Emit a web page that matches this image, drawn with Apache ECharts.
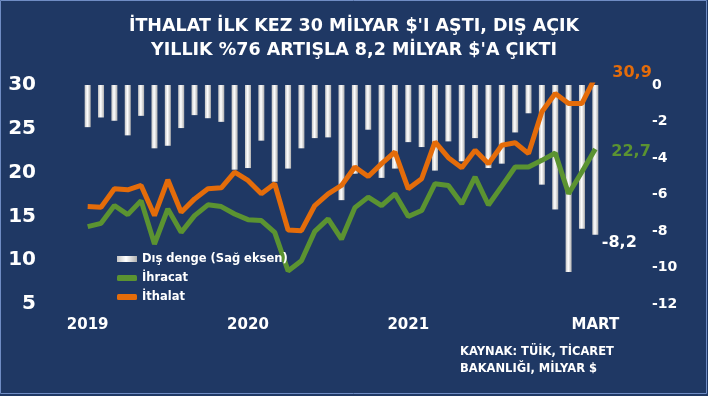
<!DOCTYPE html>
<html><head><meta charset="utf-8">
<script src="https://cdn.jsdelivr.net/npm/echarts@6/dist/echarts.min.js"></script>
<style>html,body{margin:0;padding:0;background:#1f3864;}#c{width:708px;height:396px;}</style>
</head><body><div id="c"></div>
<script>
const months = ['2019-01','2019-02','2019-03','2019-04','2019-05','2019-06','2019-07','2019-08','2019-09','2019-10','2019-11','2019-12',
'2020-01','2020-02','2020-03','2020-04','2020-05','2020-06','2020-07','2020-08','2020-09','2020-10','2020-11','2020-12',
'2021-01','2021-02','2021-03','2021-04','2021-05','2021-06','2021-07','2021-08','2021-09','2021-10','2021-11','2021-12',
'2022-01','2022-02','2022-03'];
const tickIndices = [0, 12, 24, 38];
const tickTexts = ['2019', '2020', '2021', 'MART'];
const exportsData = [13.83,14.21,16.24,15.2,16.8,11.85,15.86,13.18,15.09,16.32,16.12,15.28,
14.63,14.52,13.18,8.78,9.93,13.29,14.71,12.4,16.0,17.2,16.24,17.58,
14.98,15.67,18.73,18.53,16.44,19.5,16.3,18.45,20.64,20.64,21.4,22.24,
17.58,20.1,22.7];
const importsData = [16.12,16.05,18.15,18.04,18.53,15.09,19.18,15.48,17.0,18.15,18.27,20.06,
19.11,17.58,18.73,13.45,13.37,16.24,17.58,18.53,20.64,19.56,21.03,22.35,
18.15,19.3,23.5,21.7,20.55,22.55,21.0,23.12,23.4,22.17,26.94,29.04,
27.9,27.9,30.9];
const balanceData = [-2.31,-1.78,-1.96,-2.76,-1.69,-3.47,-3.33,-2.36,-1.65,-1.82,-2.02,-4.64,
-4.55,-3.05,-5.3,-4.58,-3.47,-2.91,-2.87,-6.31,-4.86,-2.45,-5.09,-4.58,
-3.13,-3.40,-4.69,-3.09,-4.18,-2.91,-4.55,-4.31,-2.60,-1.55,-5.46,-6.82,
-10.24,-7.87,-8.2];
const leftTicks = {min: 5, max: 30, interval: 5};
const rightTicks = {min: -12, max: 0, interval: 2};

const FONT = 'DejaVu Sans';
const GREEN = '#5b9331', ORANGE = '#e46c0a';
const fmt = v => String(v).replace('.', ',');
const last = balanceData.length - 1;

const chart = echarts.init(document.getElementById('c'), null, {renderer: 'canvas'});
chart.setOption({
  backgroundColor: '#1f3864',
  animation: false,
  title: {
    text: "İTHALAT İLK KEZ 30 MİLYAR $'I AŞTI, DIŞ AÇIK\nYILLIK %76 ARTIŞLA 8,2 MİLYAR $'A ÇIKTI",
    left: 'center', top: 9,
    textStyle: {color: '#ffffff', fontFamily: FONT, fontWeight: 'bold', fontSize: 17.5, lineHeight: 24},
  },
  graphic: [{
    type: 'text', left: 460, top: 344,
    style: {text: 'KAYNAK: TÜİK, TİCARET\nBAKANLIĞI, MİLYAR $', fill: '#ffffff', font: 'bold 11.5px "DejaVu Sans"', lineHeight: 17}
  }, {
    type: 'rect', shape: {x: 0.5, y: 0.5, width: 706, height: 393},
    style: {fill: 'none', stroke: '#6f8cc4', lineWidth: 1}, silent: true
  }],
  legend: {
    orient: 'vertical', left: 112, top: 248, itemWidth: 20, itemHeight: 6, itemGap: 7,
    textStyle: {color: '#ffffff', fontFamily: FONT, fontWeight: 'bold', fontSize: 11.5},
    data: [
      {name: 'Dış denge (Sağ eksen)', icon: 'rect'},
      {name: 'İhracat', icon: 'roundRect'},
      {name: 'İthalat', icon: 'roundRect'}
    ]
  },
  grid: {left: 81, right: 106, top: 85, bottom: 92},
  xAxis: {
    type: 'category', data: months, boundaryGap: true,
    axisLine: {show: false}, axisTick: {show: false},
    axisLabel: {
      interval: (i) => tickIndices.includes(i),
      formatter: (v, i) => { const k = tickIndices.indexOf(i); return k >= 0 ? tickTexts[k] : ''; },
      color: '#ffffff', fontFamily: FONT, fontWeight: 'bold', fontSize: 15, margin: 14
    }
  },
  yAxis: [{
    type: 'value', min: leftTicks.min, max: leftTicks.max, interval: leftTicks.interval,
    splitLine: {show: false}, axisLine: {show: false}, axisTick: {show: false},
    axisLabel: {color: '#ffffff', fontFamily: FONT, fontWeight: 'bold', fontSize: 20, margin: 45}
  }, {
    type: 'value', min: rightTicks.min, max: rightTicks.max, interval: rightTicks.interval,
    splitLine: {show: false}, axisLine: {show: false}, axisTick: {show: false},
    axisLabel: {color: '#ffffff', fontFamily: FONT, fontWeight: 'bold', fontSize: 14, margin: 50}
  }],
  series: [{
    name: 'Dış denge (Sağ eksen)', type: 'bar', yAxisIndex: 1, barWidth: 6,
    itemStyle: {color: new echarts.graphic.LinearGradient(0, 0, 1, 0, [
      {offset: 0, color: '#c4c4c4'}, {offset: 0.45, color: '#ffffff'}, {offset: 1, color: '#b0b0b0'}])},
    data: balanceData.map((v, i) => i === last ? {
      value: v,
      label: {show: true, position: 'bottom', distance: 0, offset: [24, 0], formatter: fmt(v),
        color: '#ffffff', fontFamily: FONT, fontWeight: 'bold', fontSize: 16}
    } : v)
  }, {
    name: 'İhracat', type: 'line', yAxisIndex: 0, data: exportsData, symbol: 'none',
    lineStyle: {color: GREEN, width: 5}, itemStyle: {color: GREEN},
    endLabel: {show: true, formatter: p => fmt(p.value), color: GREEN, fontFamily: FONT, fontWeight: 'bold', fontSize: 16, offset: [8, 3]}
  }, {
    name: 'İthalat', type: 'line', yAxisIndex: 0, data: importsData, symbol: 'none',
    lineStyle: {color: ORANGE, width: 5}, itemStyle: {color: ORANGE},
    endLabel: {show: true, formatter: p => fmt(p.value), color: ORANGE, fontFamily: FONT, fontWeight: 'bold', fontSize: 16, offset: [9, -4]}
  }]
});
</script></body></html>
